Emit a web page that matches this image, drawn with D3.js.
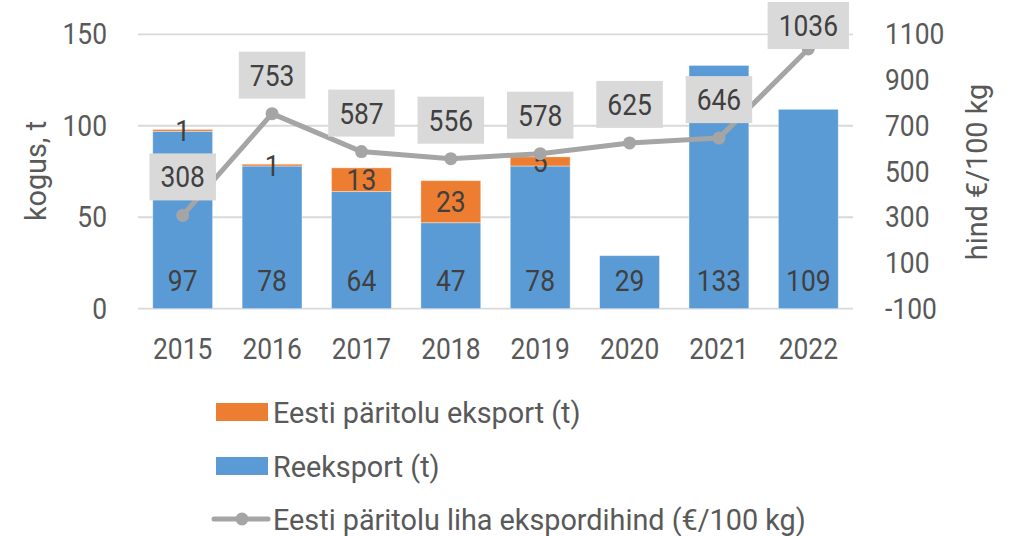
<!DOCTYPE html>
<html>
<head>
<meta charset="utf-8">
<script src="https://cdn.jsdelivr.net/npm/d3@7"></script>
<style>
  body { margin: 0; background: #fff; }
  svg text { font-family: Roboto, "Liberation Sans", sans-serif; }
</style>
</head>
<body>
<svg id="chart"></svg>
<script>
const WIDTH = 1015;
const HEIGHT = 536;
const FONT = 30;
const K = 0.88; // squeeze for numbers, the original uses a condensed face
const KW = 0.96; // squeeze for words

const years = ["2015", "2016", "2017", "2018", "2019", "2020", "2021", "2022"];
const reexport = [97, 78, 64, 47, 78, 29, 133, 109];
const estonianExport = [1, 1, 13, 23, 5, 0, 0, 0];
const price = [308, 753, 587, 556, 578, 625, 646, 1036];
const leftTicks = [0, 50, 100, 150];
const rightTicks = [-100, 100, 300, 500, 700, 900, 1100];

const BLUE = "#5B9BD5";
const ORANGE = "#ED7D31";
const GRAY = "#A5A5A5";
const TEXT = "#595959";
const LABEL = "#404040";

const svg = d3.select("#chart").attr("width", WIDTH).attr("height", HEIGHT);

const x = d3.scaleBand().domain(years).range([138, 853]).paddingInner(0.33).paddingOuter(0.165);
const yL = d3.scaleLinear().domain([0, 150]).range([308.7, 34.3]);
const yR = d3.scaleLinear().domain([-100, 1100]).range([308.7, 34.3]);

// helper: text drawn at (px,py) and squeezed
function addText(parent, px, py, str, anchor, rot, k) {
  k = k || K;
  return parent
    .append("text")
    .attr("transform", `translate(${px},${py})` + (rot ? ` rotate(${rot})` : "") + ` scale(${k},1)`)
    .attr("text-anchor", anchor || "middle")
    .attr("dy", "0.35em")
    .attr("font-size", FONT)
    .text(str);
}

function squeezeTicks(g) {
  g.selectAll(".tick text").each(function () {
    const t = d3.select(this);
    const tx = +t.attr("x") || 0;
    t.attr("x", tx / K).attr("transform", `scale(${K},1)`);
  });
}

/* gridlines */
svg.append("g")
  .selectAll("line")
  .data(leftTicks)
  .join("line")
  .attr("x1", 138)
  .attr("x2", 853)
  .attr("y1", (d) => yL(d))
  .attr("y2", (d) => yL(d))
  .attr("stroke", "#D9D9D9")
  .attr("stroke-width", 1.8);

/* axes */
const fmt = (d) => String(d);
const axL = svg.append("g")
  .attr("transform", "translate(138,0)")
  .call(d3.axisLeft(yL).tickValues(leftTicks).tickFormat(fmt).tickSize(0).tickPadding(31));
const axR = svg.append("g")
  .attr("transform", "translate(853,0)")
  .call(d3.axisRight(yR).tickValues(rightTicks).tickFormat(fmt).tickSize(0).tickPadding(32));
const axX = svg.append("g")
  .attr("transform", "translate(0,308.7)")
  .call(d3.axisBottom(x).tickSize(0).tickPadding(29));

[axL, axR, axX].forEach((g) => {
  g.select(".domain").remove();
  g.selectAll(".tick text").attr("font-size", FONT).attr("fill", TEXT).attr("font-family", null);
  squeezeTicks(g);
});

/* axis titles */
addText(svg, 35, 171, "kogus, t", "middle", -90, KW).attr("fill", TEXT);
addText(svg, 976, 172, "hind €/100 kg", "middle", -90, KW).attr("fill", TEXT);

/* stacked bars */
const rows = years.map((yr, i) => ({ year: yr, re: reexport[i], ee: estonianExport[i] }));
const stacked = d3.stack().keys(["re", "ee"])(rows);
const colors = { re: BLUE, ee: ORANGE };

svg.append("g")
  .selectAll("g")
  .data(stacked)
  .join("g")
  .attr("fill", (s) => colors[s.key])
  .selectAll("rect")
  .data((s) => s)
  .join("rect")
  .attr("x", (d) => x(d.data.year))
  .attr("width", x.bandwidth())
  .attr("y", (d) => yL(d[1]))
  .attr("height", (d) => yL(d[0]) - yL(d[1]))
  .attr("stroke", "#fff")
  .attr("stroke-opacity", 0.5)
  .attr("stroke-width", 0.8);

/* bar labels */
const barLabels = svg.append("g").attr("fill", LABEL);
rows.forEach((r) => {
  const cx = x(r.year) + x.bandwidth() / 2;
  addText(barLabels, cx, yL(0) - 28, r.re);
  if (r.ee > 0) addText(barLabels, cx, yL(r.re + r.ee / 2), r.ee);
});

/* price line */
const line = d3.line()
  .x((d, i) => x(years[i]) + x.bandwidth() / 2)
  .y((d) => yR(d));

svg.append("path")
  .datum(price)
  .attr("d", line)
  .attr("fill", "none")
  .attr("stroke", GRAY)
  .attr("stroke-width", 5)
  .attr("stroke-linejoin", "round");

svg.append("g")
  .selectAll("circle")
  .data(price)
  .join("circle")
  .attr("cx", (d, i) => x(years[i]) + x.bandwidth() / 2)
  .attr("cy", (d) => yR(d))
  .attr("r", 6.5)
  .attr("fill", GRAY);

/* price labels in gray boxes */
const priceLabels = svg.append("g");
price.forEach((p, i) => {
  const cx = x(years[i]) + x.bandwidth() / 2;
  const boxH = 47;
  let top = yR(p) - 15 - boxH;
  if (top < 2) top = 2;
  const g = priceLabels.append("g");
  const rect = g.append("rect").attr("fill", "#D9D9D9");
  const t = addText(g, cx, top + boxH / 2, p).attr("fill", LABEL);
  const w = t.node().getComputedTextLength() * K + 22;
  rect.attr("x", cx - w / 2).attr("y", top).attr("width", w).attr("height", boxH);
});

/* legend */
const legend = svg.append("g");
const legendItems = [
  { name: "Eesti päritolu eksport (t)", color: ORANGE, type: "rect" },
  { name: "Reeksport (t)", color: BLUE, type: "rect" },
  { name: "Eesti päritolu liha ekspordihind (€/100 kg)", color: GRAY, type: "line" },
];
const legendY = [412, 466, 519];
legendItems.forEach((item, i) => {
  const ly = legendY[i];
  if (item.type === "rect") {
    legend.append("rect")
      .attr("x", 216).attr("y", ly - 9)
      .attr("width", 52).attr("height", 18)
      .attr("fill", item.color);
  } else {
    legend.append("line")
      .attr("x1", 214).attr("x2", 268)
      .attr("y1", ly).attr("y2", ly)
      .attr("stroke", item.color).attr("stroke-width", 5)
      .attr("stroke-linecap", "round");
    legend.append("circle")
      .attr("cx", 242).attr("cy", ly).attr("r", 6.5)
      .attr("fill", item.color);
  }
  addText(legend, 273, ly, item.name, "start", 0, KW).attr("fill", TEXT);
});
</script>
</body>
</html>
